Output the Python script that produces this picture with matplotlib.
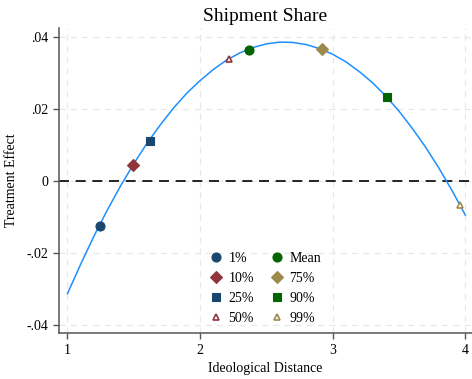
import matplotlib.pyplot as plt

plt.rcParams["font.family"] = ["Liberation Serif", "DejaVu Serif"]

# fitted treatment effect over ideological distance
dist = [1.0, 1.1, 1.2, 1.3, 1.4, 1.5, 1.6, 1.7, 1.8, 1.9, 2.0,
        2.1, 2.2, 2.3, 2.4, 2.5, 2.6, 2.7, 2.8, 2.9, 3.0,
        3.1, 3.2, 3.3, 3.4, 3.5, 3.6, 3.7, 3.8, 3.9, 4.0]
effect = [-0.0314, -0.0232, -0.0154, -0.0082, -0.0015, 0.0047, 0.0104, 0.0155,
          0.0202, 0.0243, 0.0278, 0.0309, 0.0335, 0.0355, 0.0370, 0.0380,
          0.0385, 0.0384, 0.0378, 0.0367, 0.0351, 0.0330, 0.0303, 0.0272,
          0.0235, 0.0193, 0.0145, 0.0093, 0.0035, -0.0028, -0.0096]

# distribution points
pct_labels = ["1%", "10%", "25%", "50%", "Mean", "75%", "90%", "99%"]
pct_x = [1.245, 1.496, 1.622, 2.219, 2.365, 2.917, 3.408, 3.96]
pct_y = [-0.0125, 0.0043, 0.0110, 0.0338, 0.0363, 0.0365, 0.0233, -0.0067]

markers = ["o", "D", "s", "^", "o", "D", "s", "^"]
colors = ["#1a476f", "#90353b", "#1a476f", "#90353b",
          "#006400", "#9c8a4c", "#006400", "#9c8a4c"]
sizes = [6.5, 6.5, 6, 5, 6.5, 6.5, 6, 5]
hollow = [False, False, False, True, False, False, False, True]

fig = plt.figure(figsize=(4.72, 3.79), dpi=100)
ax = fig.add_axes([0.125, 0.121, 0.875, 0.805])

ax.plot(dist, effect, color="#1e8fff", lw=1.1, zorder=3)
ax.axhline(0, color="black", lw=1.2, ls=(0, (6, 4)), zorder=2)

for i in range(len(pct_labels)):
    ax.plot(pct_x[i], pct_y[i], ls="none", marker=markers[i],
            markersize=sizes[i], color=colors[i],
            markerfacecolor="white" if hollow[i] else colors[i],
            markeredgewidth=1.2 if hollow[i] else 0.8,
            label=pct_labels[i], zorder=4)

ax.set_xlim(0.936, 4.05)
ax.set_ylim(-0.0424, 0.0424)
ax.set_xticks([1, 2, 3, 4])
ax.set_yticks([-0.04, -0.02, 0, 0.02, 0.04])
ax.set_yticklabels(["-.04", "-.02", "0", ".02", ".04"])
ax.tick_params(labelsize=10, length=4, color="#555555", width=1)
ax.grid(True, color="#e8e8e8", ls=(0, (5, 4)), lw=0.9)
ax.set_axisbelow(True)

for s in ["top", "right"]:
    ax.spines[s].set_visible(False)
for s in ["left", "bottom"]:
    ax.spines[s].set_color("#555555")
    ax.spines[s].set_linewidth(1.1)

ax.set_xlabel("Ideological Distance", fontsize=10, labelpad=4)
ax.set_ylabel("Treatment Effect", fontsize=10, labelpad=6)
ax.set_title("Shipment Share", fontsize=14, pad=5)

ax.legend(ncol=2, loc="center", bbox_to_anchor=(0.497, 0.147), frameon=False,
          fontsize=10, handletextpad=0.3, columnspacing=1.05,
          labelspacing=0.5, handlelength=1.2)

fig.savefig("out.png", dpi=100)
